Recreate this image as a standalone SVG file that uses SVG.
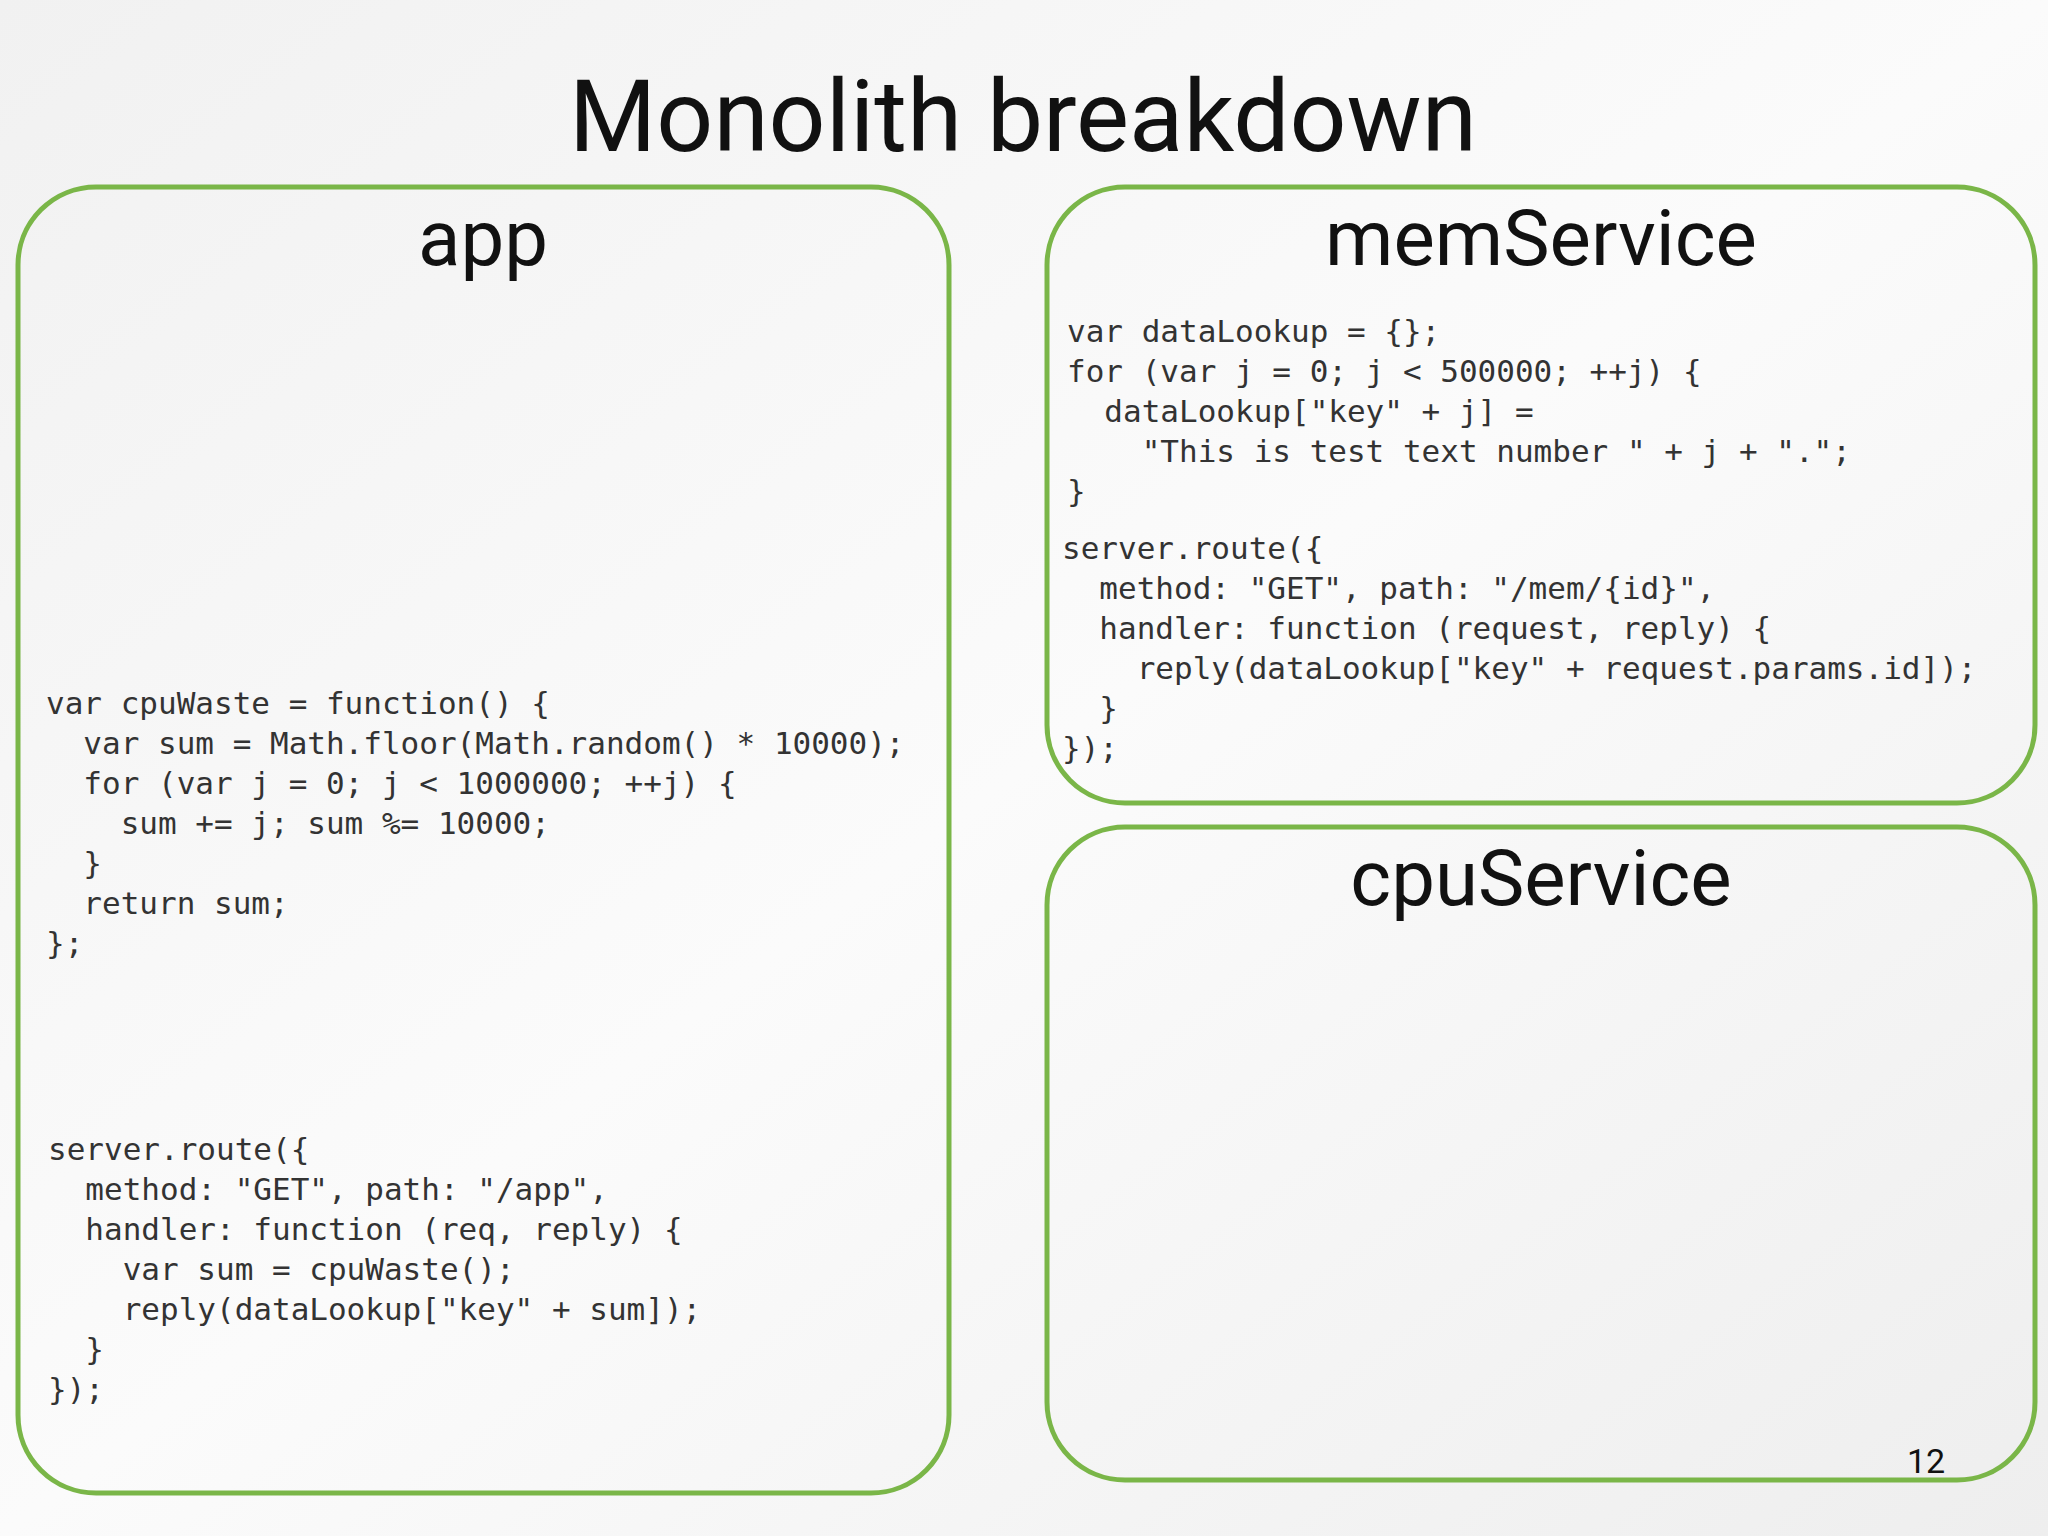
<svg xmlns="http://www.w3.org/2000/svg" width="2048" height="1536" viewBox="0 0 2048 1536">
<style>
.box{fill:none;stroke:#7ab648;stroke-width:5}
.h{font-family:Roboto,"Liberation Sans",sans-serif;fill:#111;text-anchor:middle}
.code{font-family:"DejaVu Sans Mono","Liberation Mono",monospace;font-size:31px;fill:#333;white-space:pre}
</style>
<defs><linearGradient id="bg" x1="0" y1="0" x2="1" y2="1"><stop offset="0" stop-color="#f1f1f1"/><stop offset="0.5" stop-color="#fbfbfb"/><stop offset="1" stop-color="#eeeeee"/></linearGradient></defs>
<rect width="2048" height="1536" fill="url(#bg)"/>
<text class="h" x="1023" y="151" font-size="100">Monolith breakdown</text>
<g id="app">
<rect class="box" x="18" y="187" width="931" height="1306" rx="78"/>
<text class="h" x="483" y="265" font-size="78">app</text>
<text class="code" xml:space="preserve"><tspan x="46" y="714">var cpuWaste = function() {</tspan><tspan x="46" y="754">  var sum = Math.floor(Math.random() * 10000);</tspan><tspan x="46" y="794">  for (var j = 0; j &lt; 1000000; ++j) {</tspan><tspan x="46" y="834">    sum += j; sum %= 10000;</tspan><tspan x="46" y="874">  }</tspan><tspan x="46" y="914">  return sum;</tspan><tspan x="46" y="954">};</tspan></text>
<text class="code" xml:space="preserve"><tspan x="48" y="1160">server.route({</tspan><tspan x="48" y="1200">  method: "GET", path: "/app",</tspan><tspan x="48" y="1240">  handler: function (req, reply) {</tspan><tspan x="48" y="1280">    var sum = cpuWaste();</tspan><tspan x="48" y="1320">    reply(dataLookup["key" + sum]);</tspan><tspan x="48" y="1360">  }</tspan><tspan x="48" y="1400">});</tspan></text>
</g>
<g id="memService">
<rect class="box" x="1047" y="187" width="988" height="616" rx="78"/>
<text class="h" x="1541" y="265" font-size="78">memService</text>
<text class="code" xml:space="preserve"><tspan x="1067" y="342">var dataLookup = {};</tspan><tspan x="1067" y="382">for (var j = 0; j &lt; 500000; ++j) {</tspan><tspan x="1067" y="422">  dataLookup["key" + j] =</tspan><tspan x="1067" y="462">    "This is test text number " + j + ".";</tspan><tspan x="1067" y="502">}</tspan></text>
<text class="code" xml:space="preserve"><tspan x="1062" y="559">server.route({</tspan><tspan x="1062" y="599">  method: "GET", path: "/mem/{id}",</tspan><tspan x="1062" y="639">  handler: function (request, reply) {</tspan><tspan x="1062" y="679">    reply(dataLookup["key" + request.params.id]);</tspan><tspan x="1062" y="719">  }</tspan><tspan x="1062" y="759">});</tspan></text>
</g>
<g id="cpuService">
<rect class="box" x="1047" y="827" width="988" height="653" rx="78"/>
<text class="h" x="1541" y="905" font-size="78">cpuService</text>
</g>
<g id="connectors"/>
<text x="1926" y="1473" font-family="Roboto,'Liberation Sans',sans-serif" font-size="34" fill="#111" text-anchor="middle">12</text>
</svg>
